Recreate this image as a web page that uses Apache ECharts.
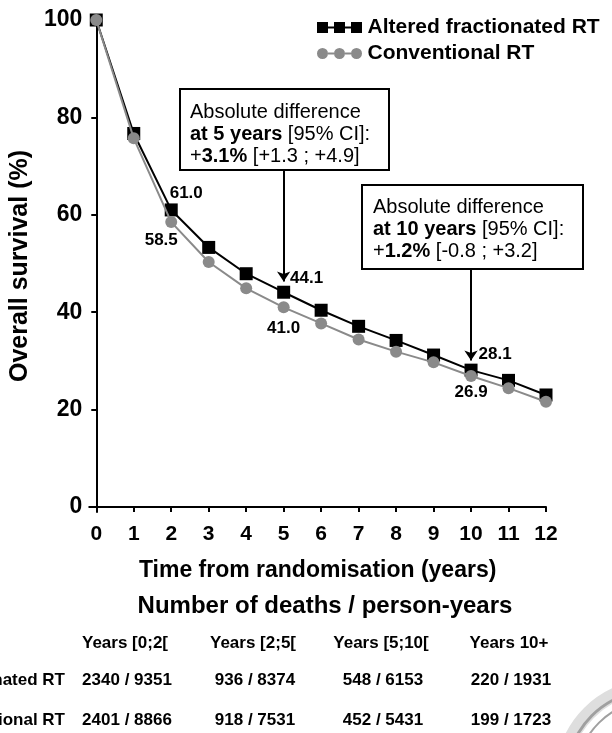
<!DOCTYPE html>
<html>
<head>
<meta charset="utf-8">
<script src="https://cdn.jsdelivr.net/npm/echarts@6/dist/echarts.min.js"></script>
<style>html,body{margin:0;padding:0;background:#fff}#c{width:612px;height:733px}</style>
</head>
<body>
<div id="c"></div>
<script>
var years = [0,1,2,3,4,5,6,7,8,9,10,11,12];
var altered = [100, 76.7, 61.0, 53.3, 47.9, 44.1, 40.4, 37.1, 34.2, 31.2, 28.1, 26.0, 23.0];
var conventional = [100, 75.7, 58.5, 50.3, 44.9, 41.0, 37.7, 34.4, 31.9, 29.7, 26.9, 24.4, 21.6];
var yTicks = [0,20,40,60,80,100];
var seriesNames = ['Altered fractionated RT', 'Conventional RT'];
var tableTitle = 'Number of deaths / person-years';
var tableHeaders = ['Years [0;2[', 'Years [2;5[', 'Years [5;10[', 'Years 10+'];
var tableAltered = ['2340 / 9351', '936 / 8374', '548 / 6153', '220 / 1931'];
var tableConventional = ['2401 / 8866', '918 / 7531', '452 / 5431', '199 / 1723'];
var labelled = {2: [[15,-17],[-10,18]], 5: [[23,-14],[0,21]], 10: [[24,-16],[0,16]]};

var FONT = "'Liberation Sans', Arial, sans-serif";
function mkData(vals, which) {
  return years.map(function (x, i) {
    var d = {value: [x, vals[i]]};
    if (labelled[x]) {
      d.label = {show: true, position: 'inside', offset: labelled[x][which],
        formatter: vals[i].toFixed(1), color: '#000', fontWeight: 'bold', fontSize: 17, fontFamily: FONT};
    }
    return d;
  });
}

var sqIcon = 'path://M0,0h11v11h-11z M17,0h11v11h-11z M34,0h11v11h-11z M11,4.5h6v2h-6z M28,4.5h6v2h-6z';
var ciIcon = 'path://M0,5.5a5.5,5.5 0 1,0 11,0a5.5,5.5 0 1,0 -11,0z M17,5.5a5.5,5.5 0 1,0 11,0a5.5,5.5 0 1,0 -11,0z M34,5.5a5.5,5.5 0 1,0 11,0a5.5,5.5 0 1,0 -11,0z M11,4.5h6v2h-6z M28,4.5h6v2h-6z';

var chart = echarts.init(document.getElementById('c'));
var rich = {
  n: {fontSize: 20, fontFamily: FONT, color: '#000', lineHeight: 22},
  b: {fontSize: 20, fontFamily: FONT, fontWeight: 'bold', color: '#000', lineHeight: 22}
};
var colX = [127, 255, 383, 511];
var graphics = [
  {type: 'rect', shape: {x: 180, y: 89, width: 209, height: 81}, style: {fill: '#fff', stroke: '#000', lineWidth: 2}, z: 10},
  {type: 'text', x: 190, y: 101, z: 11, style: {text: '{n|Absolute difference}\n{b|at 5 years} {n|[95% CI]:}\n{n|+}{b|3.1%}{n| [+1.3 ; +4.9]}', rich: rich, font: '20px ' + FONT}},
  {type: 'rect', shape: {x: 362, y: 185, width: 221, height: 84}, style: {fill: '#fff', stroke: '#000', lineWidth: 2}, z: 10},
  {type: 'text', x: 373, y: 196, z: 11, style: {text: '{n|Absolute difference}\n{b|at 10 years} {n|[95% CI]:}\n{n|+}{b|1.2%}{n| [-0.8 ; +3.2]}', rich: rich, font: '20px ' + FONT}},
  {type: 'text', x: 325, y: 606, style: {text: tableTitle, font: 'bold 24px ' + FONT, fill: '#000', align: 'center', verticalAlign: 'middle'}},
  {type: 'text', x: 65, y: 680, style: {text: seriesNames[0], font: 'bold 17px ' + FONT, fill: '#000', align: 'right', verticalAlign: 'middle'}},
  {type: 'text', x: 65, y: 720, style: {text: seriesNames[1], font: 'bold 17px ' + FONT, fill: '#000', align: 'right', verticalAlign: 'middle'}},
  {type: 'circle', shape: {cx: 654, cy: 778, r: 92}, style: {fill: 'none', stroke: '#dedede', lineWidth: 14}},
  {type: 'circle', shape: {cx: 654, cy: 778, r: 88}, style: {fill: 'none', stroke: '#a0a0a0', lineWidth: 3}},
  {type: 'circle', shape: {cx: 654, cy: 778, r: 78}, style: {fill: 'none', stroke: '#a0a0a0', lineWidth: 2}}
];
tableHeaders.forEach(function (h, i) {
  graphics.push({type: 'text', x: colX[i] - 2, y: 643, style: {text: h, font: 'bold 17px ' + FONT, fill: '#000', align: 'center', verticalAlign: 'middle'}});
  graphics.push({type: 'text', x: colX[i], y: 680, style: {text: tableAltered[i], font: 'bold 17px ' + FONT, fill: '#000', align: 'center', verticalAlign: 'middle'}});
  graphics.push({type: 'text', x: colX[i], y: 720, style: {text: tableConventional[i], font: 'bold 17px ' + FONT, fill: '#000', align: 'center', verticalAlign: 'middle'}});
});

chart.setOption({
  animation: false,
  backgroundColor: '#fff',
  grid: {left: 88, right: 66, top: 20, bottom: 221, containLabel: false},
  legend: {
    orient: 'vertical', left: 312, top: 12, itemWidth: 46, itemHeight: 11, itemGap: 5,
    textStyle: {fontSize: 21, fontWeight: 'bold', color: '#000', fontFamily: FONT},
    data: [{name: seriesNames[0], icon: sqIcon}, {name: seriesNames[1], icon: ciIcon}]
  },
  xAxis: {
    type: 'value', min: -0.1867, max: 12,
    name: 'Time from randomisation (years)', nameLocation: 'middle', nameGap: 47,
    nameTextStyle: {fontSize: 23, fontWeight: 'bold', color: '#000', fontFamily: FONT},
    axisLine: {lineStyle: {color: '#000', width: 2}},
    axisTick: {show: true, length: 5, lineStyle: {color: '#000', width: 2}, customValues: years},
    axisLabel: {customValues: years, fontSize: 21, fontWeight: 'bold', color: '#000', margin: 12, fontFamily: FONT},
    splitLine: {show: false}
  },
  yAxis: {
    type: 'value', min: -1.03, max: 100,
    name: 'Overall survival (%)', nameLocation: 'middle', nameGap: 46, nameRotate: 90,
    nameTextStyle: {fontSize: 25, fontWeight: 'bold', color: '#000', fontFamily: FONT},
    axisLine: {show: true, lineStyle: {color: '#000', width: 2}},
    axisTick: {show: true, length: 5, lineStyle: {color: '#000', width: 2}, customValues: yTicks},
    axisLabel: {customValues: yTicks, fontSize: 23, fontWeight: 'bold', color: '#000', margin: 7, fontFamily: FONT},
    splitLine: {show: false}
  },
  series: [
    {
      name: seriesNames[0], type: 'line', data: mkData(altered, 0),
      symbol: 'rect', symbolSize: 13, z: 2,
      itemStyle: {color: '#000'}, lineStyle: {color: '#000', width: 2},
      markLine: {
        silent: true, symbol: ['none', 'arrow'], symbolSize: 10,
        lineStyle: {color: '#000', width: 2, type: 'solid'}, label: {show: false},
        data: [
          [{coord: [5, 69.2]}, {coord: [5, 46.3]}],
          [{coord: [10, 49.1]}, {coord: [10, 30.1]}]
        ]
      }
    },
    {
      name: seriesNames[1], type: 'line', data: mkData(conventional, 1),
      symbol: 'circle', symbolSize: 12, z: 3,
      itemStyle: {color: '#8a8a8a'}, lineStyle: {color: '#8a8a8a', width: 2}
    }
  ],
  graphic: graphics
});
</script>
</body>
</html>
